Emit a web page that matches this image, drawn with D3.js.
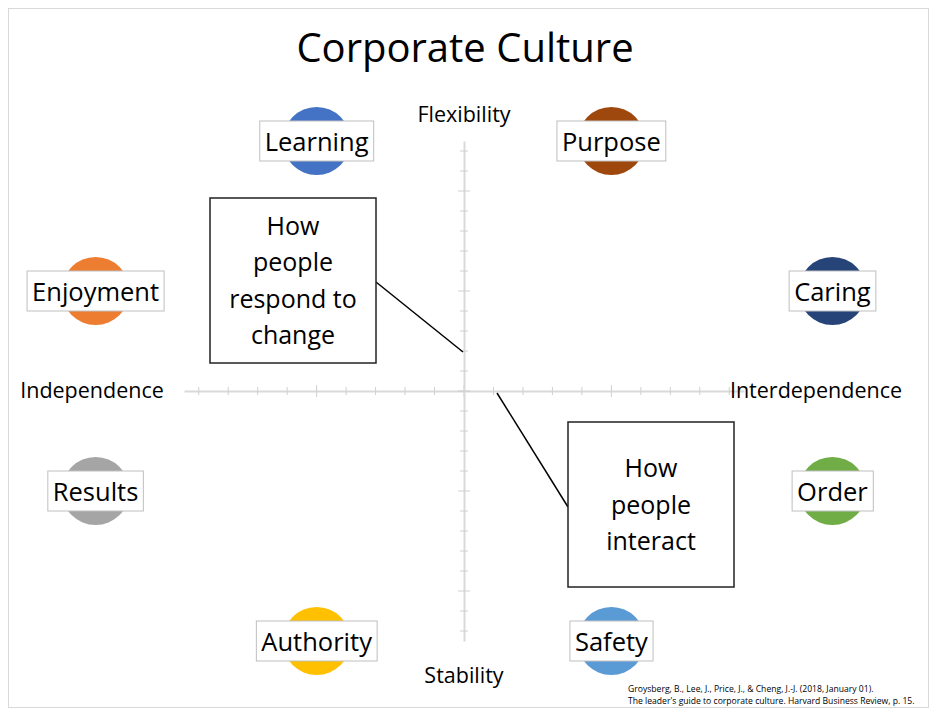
<!DOCTYPE html>
<html><head><meta charset="utf-8">
<script src="https://cdn.jsdelivr.net/npm/d3@7"></script>
<style>body{margin:0;background:#fff}text{font-family:"Open Sans","Noto Sans",sans-serif}</style>
</head><body>
<svg id="chart" width="941" height="718"></svg>
<script>
var names = ["Learning","Purpose","Enjoyment","Caring","Results","Order","Authority","Safety"];
var xs = [-5, 5, -12.5, 12.5, -12.5, 12.5, -5, 5];
var ys = [12.5, 12.5, 5, 5, -5, -5, -12.5, -12.5];
var colors = ["#4472C4","#9E480E","#ED7D31","#264478","#A5A5A5","#70AD47","#FFC000","#5B9BD5"];
var xTicks = d3.range(-9, 10);
var yTicks = d3.range(-12, 13);

var svg = d3.select("#chart");
var x = d3.scaleLinear().domain([-9.5, 9.5]).range([184, 744]);
var y = d3.scaleLinear().domain([-12.5, 12.5]).range([641, 141]);

svg.append("rect").attr("x", 8.5).attr("y", 8.5).attr("width", 920).attr("height", 699)
  .attr("fill", "none").attr("stroke", "#d9d9d9");

svg.append("text").attr("x", 465).attr("y", 62).attr("text-anchor", "middle")
  .attr("font-size", 40).text("Corporate Culture");

// axes through origin
var gx = svg.append("g").attr("transform", "translate(0," + y(0) + ")")
  .call(d3.axisBottom(x).tickValues(xTicks).tickSize(0).tickFormat(""));
gx.select(".domain").attr("stroke", "#d9d9d9").attr("stroke-width", 2);
svg.append("g").selectAll("line").data(xTicks).join("line")
  .attr("x1", d => x(d)).attr("x2", d => x(d))
  .attr("y1", d => y(0) - (d % 5 === 0 ? 6 : 4)).attr("y2", d => y(0) + (d % 5 === 0 ? 6 : 4))
  .attr("stroke", "#d0d0d0");

var gy = svg.append("g").attr("transform", "translate(" + x(0) + ",0)")
  .call(d3.axisLeft(y).tickValues(yTicks).tickSize(0).tickFormat(""));
gy.select(".domain").attr("stroke", "#d9d9d9").attr("stroke-width", 2);
svg.append("g").selectAll("line").data(yTicks).join("line")
  .attr("y1", d => y(d)).attr("y2", d => y(d))
  .attr("x1", d => x(0) - (d % 5 === 0 ? 6 : 4)).attr("x2", d => x(0) + (d % 5 === 0 ? 6 : 4))
  .attr("stroke", "#d0d0d0");

// axis titles
var axisTitles = [
  {t: "Flexibility", x: 464, y: 122, a: "middle"},
  {t: "Stability", x: 464, y: 683, a: "middle"},
  {t: "Independence", x: 92, y: 398, a: "middle"},
  {t: "Interdependence", x: 816, y: 398, a: "middle"}
];
svg.selectAll(".at").data(axisTitles).join("text")
  .attr("x", d => d.x).attr("y", d => d.y).attr("text-anchor", d => d.a)
  .attr("font-size", 21.5).text(d => d.t);

// points
var pts = names.map((n, i) => ({n: n, x: xs[i], y: ys[i], c: colors[i]}));
var g = svg.append("g").selectAll("g").data(pts).join("g")
  .attr("transform", d => "translate(" + x(d.x) + "," + y(d.y) + ")");
g.append("circle").attr("r", 34).attr("fill", d => d.c);
g.append("text").attr("text-anchor", "middle").attr("y", 9.5).attr("font-size", 25.5)
  .text(d => d.n).each(function () {
    var b = this.getBBox();
    d3.select(this.parentNode).insert("rect", "text")
      .attr("x", b.x - 5).attr("y", -20).attr("width", b.width + 10).attr("height", 40)
      .attr("fill", "#fff").attr("stroke", "#bfbfbf");
  });

// callouts
var callouts = [
  {lines: ["How", "people", "respond to", "change"], bx: 210, by: 198, lx1: 376, ly1: 282, lx2: 463, ly2: 352},
  {lines: ["How", "people", "interact"], bx: 568, by: 422, lx1: 568, ly1: 507, lx2: 497, ly2: 393}
];
callouts.forEach(function (c) {
  svg.append("line").attr("x1", c.lx1).attr("y1", c.ly1).attr("x2", c.lx2).attr("y2", c.ly2)
    .attr("stroke", "#000").attr("stroke-width", 1.5);
  svg.append("rect").attr("x", c.bx).attr("y", c.by).attr("width", 166).attr("height", 165)
    .attr("fill", "#fff").attr("stroke", "#222").attr("stroke-width", 1.5);
  var h = 36.5, top = c.by + 82.5 - (c.lines.length - 1) * h / 2 + 9;
  svg.append("g").selectAll("text").data(c.lines).join("text")
    .attr("x", c.bx + 83).attr("y", (d, i) => top + i * h).attr("text-anchor", "middle")
    .attr("font-size", 25).text(d => d);
});

svg.append("text").attr("x", 628).attr("y", 692).attr("font-size", 8.6)
  .text("Groysberg, B., Lee, J., Price, J., & Cheng, J.-J. (2018, January 01).");
svg.append("text").attr("x", 628).attr("y", 704).attr("font-size", 8.6)
  .text("The leader's guide to corporate culture. Harvard Business Review, p. 15.");
</script>
</body></html>
